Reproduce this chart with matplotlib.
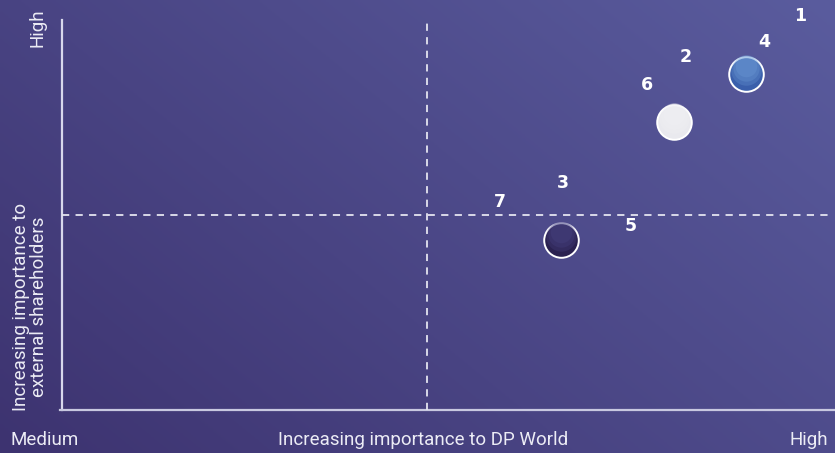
import numpy as np
import matplotlib.pyplot as plt
import matplotlib.colors as mcolors

# issue numbers and where they sit (0-10 scale on both axes)
labels = ['1', '2', '3', '4', '5', '6', '7']
label_x = [9.61, 8.12, 6.52, 9.14, 7.41, 7.62, 5.70]
label_y = [10.1, 9.05, 5.82, 9.44, 4.72, 8.33, 5.33]

# the three bubbles
bubble_x = [6.50, 7.97, 8.91]
bubble_y = [4.36, 7.38, 8.62]
bubble_col = ['#2a2150', '#e9e9ee', '#3a5fab']
bubble_top = ['#4e4a8c', '#f2f2f5', '#74a4dc']

x_mid = 4.75
y_mid = 5.0

W, H = 835, 453
fig = plt.figure(figsize=(W / 100, H / 100), dpi=100)

# gradient background
bg = fig.add_axes([0, 0, 1, 1])
bg.set_axis_off()
gx, gy = np.meshgrid(np.linspace(0, 1, 200), np.linspace(0, 1, 200))
t = 0.6 * gx + 0.4 * gy
c0 = np.array(mcolors.to_rgb('#3d3370'))
c1 = np.array(mcolors.to_rgb('#5a5c9e'))
img = c0 + (c1 - c0) * t[..., None]
bg.imshow(img, origin='lower', extent=[0, 1, 0, 1], aspect='auto')
bg.set_xlim(0, 1)
bg.set_ylim(0, 1)

ax = fig.add_axes([62 / W, 43 / H, 768 / W, 390 / H])
ax.set_xlim(0, 10)
ax.set_ylim(0, 10)
ax.patch.set_alpha(0)
for s in ax.spines.values():
    s.set_visible(False)
ax.set_xticks([])
ax.set_yticks([])

# axes lines
ax.plot([0, 0], [0, 10], color='#d8d8ec', lw=1.6, clip_on=False)
ax.plot([-0.03, 10.07], [0, 0], color='#c8c8e0', lw=1.6, clip_on=False)
ax.axvline(x_mid, ymax=1.0, color='#e4e4f0', lw=1.3, ls=(0, (4, 3.5)))
ax.plot([0, 10], [y_mid, y_mid], color='#e4e4f0', lw=1.3, ls=(0, (4, 3.5)))

# bubbles with a little shading, lighter towards the top
for x, y, c, ct in zip(bubble_x, bubble_y, bubble_col, bubble_top):
    ax.scatter(x, y, s=620, color=c, edgecolor='white', linewidth=1.4, zorder=3)
    for k, a in enumerate([0.25, 0.25, 0.25]):
        ax.scatter(x, y + 0.1 + 0.05 * k, s=480 - 120 * k, color=ct, alpha=a,
                   linewidth=0, zorder=4)

for lab, x, y in zip(labels, label_x, label_y):
    ax.text(x, y, lab, color='white', fontsize=12.5, fontweight='heavy',
            family='DejaVu Sans', ha='center', va='center',
            transform=ax.transData, clip_on=False)

fnt = dict(color='#ececf5', fontsize=13.5, family='Roboto', fontweight='normal')
fig.text(10 / W, 1 - 440 / H, 'Medium', ha='left', va='center', **fnt)
fig.text(423 / W, 1 - 440 / H, 'Increasing importance to DP World',
         ha='center', va='center', **fnt)
fig.text(828 / W, 1 - 440 / H, 'High', ha='right', va='center', **fnt)
fig.text(37 / W, 1 - 8 / H, 'High', ha='center', va='top', rotation=90, **fnt)
fig.text(30 / W, 1 - 411 / H, 'Increasing importance to\nexternal shareholders',
         ha='center', va='bottom', rotation=90, linespacing=0.95, **fnt)

fig.savefig('out.png', dpi=100)
